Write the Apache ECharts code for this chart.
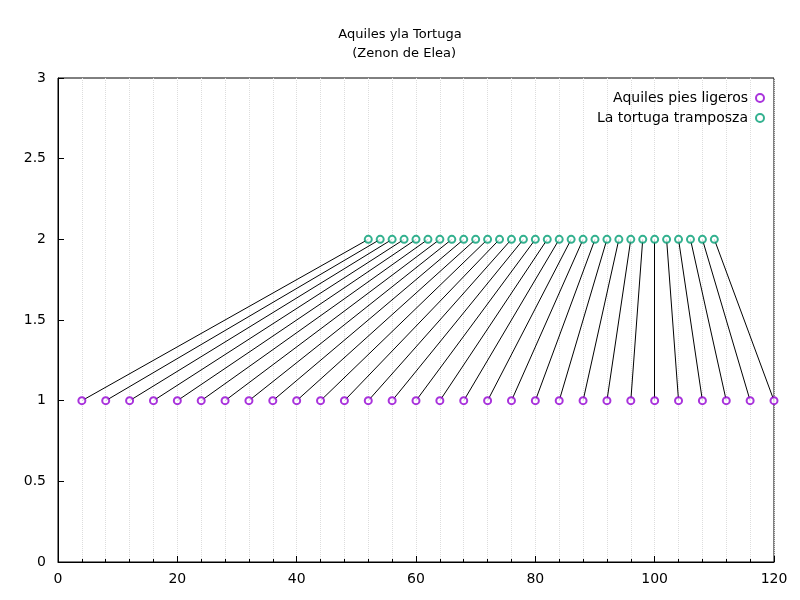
<!DOCTYPE html>
<html>
<head>
<meta charset="utf-8">
<script src="https://cdn.jsdelivr.net/npm/echarts@6/dist/echarts.min.js"></script>
<style>html,body{margin:0;padding:0;background:#fff}#container{width:800px;height:600px}</style>
</head>
<body>
<div id="container"></div>
<script>
// posiciones de Aquiles (y=1) y de la tortuga (y=2)
var aquilesX = [4, 8, 12, 16, 20, 24, 28, 32, 36, 40, 44, 48, 52, 56, 60, 64, 68, 72, 76, 80, 84, 88, 92, 96, 100, 104, 108, 112, 116, 120];
var tortugaX = [52, 54, 56, 58, 60, 62, 64, 66, 68, 70, 72, 74, 76, 78, 80, 82, 84, 86, 88, 90, 92, 94, 96, 98, 100, 102, 104, 106, 108, 110];
var aquilesY = 1;
var tortugaY = 2;

var dom = document.getElementById("container");
var myChart = echarts.init(dom);
var font = "DejaVu Sans";

var lineData = [];
for (var i = 0; i < aquilesX.length; i++) {
    lineData.push({coords: [[aquilesX[i], aquilesY], [tortugaX[i], tortugaY]]});
}

var option = {
    animation: false,
    textStyle: {fontFamily: font},
    title: {
        text: 'Aquiles yla Tortuga\n  (Zenon de Elea)',
        left: 'center', top: 20,
        textStyle: {fontSize: 13, fontWeight: 'normal', color: '#000', fontFamily: font, lineHeight: 19}
    },
    legend: {
        orient: 'vertical', right: 30, top: 86, align: 'right',
        itemGap: 6, itemWidth: 14, itemHeight: 8,
        textStyle: {fontSize: 14, color: '#000', fontFamily: font},
        data: ['Aquiles pies ligeros', 'La tortuga tramposza']
    },
    grid: {left: 58, right: 26, top: 78, bottom: 38, show: true, borderColor: '#000', borderWidth: 1},
    xAxis: {
        type: 'value', min: 0, max: 120, interval: 20,
        axisLine: {lineStyle: {color: '#000'}},
        axisTick: {inside: true, length: 6, lineStyle: {color: '#000'}},
        minorTick: {show: true, splitNumber: 5, length: 3, lineStyle: {color: '#000'}},
        axisLabel: {fontSize: 14, color: '#000', margin: 10},
        splitLine: {show: true, lineStyle: {color: '#ddd', type: 'dotted'}},
        minorSplitLine: {show: true, lineStyle: {color: '#ddd', type: 'dotted'}}
    },
    yAxis: {
        type: 'value', min: 0, max: 3, interval: 0.5,
        axisLine: {show: true, lineStyle: {color: '#000'}},
        axisTick: {show: true, inside: true, length: 6, lineStyle: {color: '#000'}},
        axisLabel: {fontSize: 14, color: '#000', margin: 12},
        splitLine: {show: false}
    },
    series: [{
        type: 'lines', coordinateSystem: 'cartesian2d',
        silent: true, lineStyle: {color: '#000', width: 1, opacity: 1},
        data: lineData, z: 1
    }, {
        name: 'Aquiles pies ligeros', type: 'scatter', symbol: 'emptyCircle', symbolSize: 7,
        itemStyle: {color: '#9400d3', borderWidth: 1},
        data: aquilesX.map(function (x) { return [x, aquilesY]; }), z: 3
    }, {
        name: 'La tortuga tramposza', type: 'scatter', symbol: 'emptyCircle', symbolSize: 7,
        itemStyle: {color: '#009e73', borderWidth: 1},
        data: tortugaX.map(function (x) { return [x, tortugaY]; }), z: 3
    }]
};
myChart.setOption(option);
</script>
</body>
</html>
